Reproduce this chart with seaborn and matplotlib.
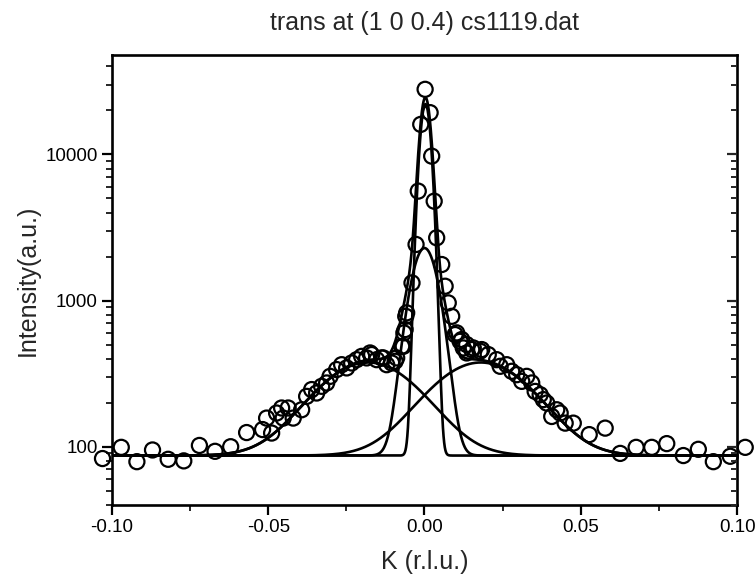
import numpy as np
import pandas as pd
import matplotlib
matplotlib.use("Agg")
import matplotlib.pyplot as plt
import seaborn as sns
from matplotlib.ticker import LogLocator, NullFormatter, FixedLocator, MultipleLocator

# ---------------- data ----------------
title = "trans at (1 0 0.4) cs1119.dat"
x_label = "K (r.l.u.)"
y_label = "Intensity(a.u.)"
x_ticks = [-0.10, -0.05, 0.00, 0.05, 0.10]
x_tick_labels = ["-0.10", "-0.05", "0.00", "0.05", "0.10"]
y_ticks = [100, 1000, 10000]
y_tick_labels = ["100", "1000", "10000"]

k_left_tail = [-0.103, -0.097, -0.092, -0.087, -0.082, -0.077, -0.072, -0.067, -0.062]
i_left_tail = [83, 99, 79, 95, 82, 80, 102, 93, 100]

k_left_hump = [-0.0569, -0.0518, -0.0505, -0.0489, -0.0473, -0.0457, -0.0452, -0.0436,
               -0.0420, -0.0393, -0.0377, -0.0361, -0.0345, -0.0329, -0.0313, -0.0302,
               -0.0281, -0.0265, -0.0249, -0.0233, -0.0217, -0.0201, -0.0185, -0.0174,
               -0.0169, -0.0153, -0.0137, -0.0132, -0.0121, -0.0105, -0.0094, -0.0089,
               -0.0073, -0.0068, -0.0066, -0.0062, -0.0060, -0.0057]
i_left_hump = [125, 131, 157, 124, 170, 184, 157, 184,
               157, 179, 221, 246, 233, 259, 273, 303,
               337, 364, 346, 374, 394, 415, 405, 438,
               427, 394, 405, 405, 364, 374, 384, 405,
               486, 486, 601, 633, 780, 824]

k_peak = [-0.0040, -0.0027, -0.0020, -0.0012, 0.0002, 0.0018, 0.0023, 0.0031,
          0.0039, 0.0055, 0.0066, 0.0076, 0.0087]
i_peak = [1320, 2420, 5607, 16040, 27870, 19300, 9730, 4786,
          2688, 1764, 1253, 964, 780]

k_right_hump = [0.0098, 0.0103, 0.0114, 0.0119, 0.0124, 0.0135, 0.0135, 0.0151,
                0.0156, 0.0178, 0.0183, 0.0204, 0.0231, 0.0242, 0.0263, 0.0279,
                0.0295, 0.0311, 0.0327, 0.0343, 0.0354, 0.0370, 0.0380, 0.0391,
                0.0407, 0.0423, 0.0434, 0.0450, 0.0476, 0.0527, 0.0578]
i_right_hump = [585, 601, 526, 541, 474, 500, 438, 462,
                474, 450, 462, 427, 394, 355, 364, 328,
                311, 280, 303, 273, 239, 227, 210, 199,
                161, 179, 170, 145, 145, 121, 134]

k_right_tail = [0.0626, 0.0677, 0.0727, 0.0775, 0.0828, 0.0876, 0.0924, 0.0978, 0.1026]
i_right_tail = [90, 99, 99, 105, 87, 96, 79, 86, 99]

# fitted model parameters
background = 87.0
narrow_amp, narrow_center, narrow_sigma = 22000.0, 0.0003, 0.0016
medium_amp, medium_center, medium_sigma = 2200.0, 0.0, 0.0040
broad_amp, broad_center_left, broad_center_right, broad_sigma = 290.0, -0.018, 0.018, 0.0148

# ---------------- build frames ----------------
data = pd.DataFrame({
    "K": k_left_tail + k_left_hump + k_peak + k_right_hump + k_right_tail,
    "I": i_left_tail + i_left_hump + i_peak + i_right_hump + i_right_tail,
})

k_fit = np.linspace(-0.1, 0.1, 2001)


def gauss(k, a, c, s):
    return a * np.exp(-(k - c) ** 2 / (2 * s ** 2))


g_n = gauss(k_fit, narrow_amp, narrow_center, narrow_sigma)
g_m = gauss(k_fit, medium_amp, medium_center, medium_sigma)
g_l = gauss(k_fit, broad_amp, broad_center_left, broad_sigma)
g_r = gauss(k_fit, broad_amp, broad_center_right, broad_sigma)
curves = {
    "total": background + g_n + g_m + g_l + g_r,
    "narrow": background + g_n,
    "medium": background + g_m,
    "left": background + g_l,
    "right": background + g_r,
}

# ---------------- plot ----------------
sns.set_theme(style="ticks")
plt.rcParams["font.family"] = ["Liberation Sans", "DejaVu Sans"]

fig = plt.figure(figsize=(7.56, 5.77), dpi=100)
ax = fig.add_axes([0.148, 0.125, 0.827, 0.780])

for name, yv in curves.items():
    sns.lineplot(x=k_fit, y=yv, ax=ax, color="black", linewidth=1.9,
                 sort=False, estimator=None, legend=False)

sns.scatterplot(data=data, x="K", y="I", ax=ax, marker="o", s=118,
                facecolors="none", edgecolor="black", linewidth=1.6,
                clip_on=False, zorder=5, legend=False)

ax.set_yscale("log")
ax.set_xlim(-0.1, 0.1)
ax.set_ylim(40, 48000)

ax.xaxis.set_major_locator(FixedLocator(x_ticks))
ax.set_xticklabels(x_tick_labels)
ax.xaxis.set_minor_locator(MultipleLocator(0.025))
ax.yaxis.set_major_locator(FixedLocator(y_ticks))
ax.set_yticklabels(y_tick_labels)
ax.yaxis.set_minor_locator(LogLocator(base=10, subs=np.arange(2, 10), numticks=20))
ax.yaxis.set_minor_formatter(NullFormatter())

for sp in ax.spines.values():
    sp.set_visible(True)
    sp.set_linewidth(1.9)
    sp.set_color("black")

ax.tick_params(axis="both", which="major", direction="out", length=7, width=1.6,
               labelsize=13.5, colors="black", top=False, right=False, pad=3)
ax.tick_params(axis="both", which="minor", direction="out", length=4, width=1.4,
               top=False, right=False)

# right-hand inward ticks
ax2 = ax.twinx()
ax2.set_yscale("log")
ax2.set_ylim(ax.get_ylim())
ax2.yaxis.set_major_locator(FixedLocator(y_ticks))
ax2.yaxis.set_minor_locator(LogLocator(base=10, subs=np.arange(2, 10), numticks=20))
ax2.yaxis.set_major_formatter(NullFormatter())
ax2.yaxis.set_minor_formatter(NullFormatter())
ax2.tick_params(axis="y", which="major", direction="in", length=7, width=1.6)
ax2.tick_params(axis="y", which="minor", direction="in", length=4, width=1.4)
for sp in ax2.spines.values():
    sp.set_visible(False)

ax.set_xlabel(x_label, fontsize=18, labelpad=10)
ax.set_ylabel(y_label, fontsize=18, labelpad=4)
ax.set_title(title, fontsize=18, pad=18)

fig.savefig("out.png", dpi=100)
